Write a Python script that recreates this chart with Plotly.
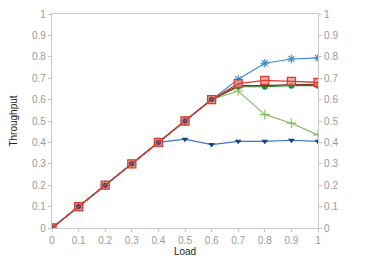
import plotly.graph_objects as go

load = [0, 0.1, 0.2, 0.3, 0.4, 0.5, 0.6, 0.7, 0.8, 0.9, 1.0]
base = [0, 0.1, 0.2, 0.3, 0.4, 0.5, 0.6]
tri = base[:5] + [0.415, 0.39, 0.405, 0.405, 0.41, 0.405]
plus = base + [0.64, 0.53, 0.49, 0.435]
circ = base + [0.66, 0.66, 0.665, 0.665]
dark = base + [0.665, 0.665, 0.67, 0.67]
sq = base + [0.675, 0.69, 0.685, 0.68]
star = base + [0.695, 0.77, 0.79, 0.795]
yticks = [0, 0.1, 0.2, 0.3, 0.4, 0.5, 0.6, 0.7, 0.8, 0.9, 1]
ytext = ["0", "0.1", "0.2", "0.3", "0.4", "0.5", "0.6", "0.7", "0.8", "0.9", "1"]

fig = go.Figure()
fig.add_trace(go.Scatter(x=load, y=tri, mode="lines+markers",
    line=dict(color="#3f74c0", width=1.2),
    marker=dict(symbol="triangle-down", size=6, color="#13428c")))
fig.add_trace(go.Scatter(x=load, y=plus, mode="lines+markers",
    line=dict(color="#7dbb5c", width=1.1),
    marker=dict(symbol="cross-thin-open", size=7, color="#7dbb5c", line=dict(width=1.1, color="#7dbb5c"))))
fig.add_trace(go.Scatter(x=load, y=circ, mode="lines+markers",
    line=dict(color="#2c8a3a", width=1.2),
    marker=dict(symbol="circle", size=6, color="#1d8a35")))
fig.add_trace(go.Scatter(x=load, y=dark, mode="lines",
    line=dict(color="#6b3a22", width=1.2)))
fig.add_trace(go.Scatter(x=load, y=star, mode="lines+markers",
    line=dict(color="#3a88d0", width=1.1),
    marker=dict(symbol="asterisk-open", size=7, line=dict(width=1.1, color="#2f7ec8"))))
fig.add_trace(go.Scatter(x=load, y=sq, mode="markers",
    marker=dict(symbol="square", size=8, color="rgba(240,140,130,0.7)", line=dict(width=1.3, color="#e2382c"))))
fig.add_trace(go.Scatter(x=load[:7], y=base, mode="markers",
    marker=dict(symbol="circle", size=5, color="#1f4f86")))
fig.add_trace(go.Scatter(x=load, y=sq, mode="lines",
    line=dict(color="#e2382c", width=1.3)))

axfont = dict(family="Liberation Sans, Arial", size=10, color="#999999")
fig.update_layout(
    width=374, height=262, showlegend=False,
    margin=dict(l=44, r=64, t=6, b=42),
    plot_bgcolor="white", paper_bgcolor="white",
    font=dict(family="Liberation Sans, Arial", size=10, color="#222"),
    xaxis=dict(range=[0, 1], tickvals=[0, 0.1, 0.2, 0.3, 0.4, 0.5, 0.6, 0.7, 0.8, 0.9, 1],
               ticktext=["0", "0.1", "0.2", "0.3", "0.4", "0.5", "0.6", "0.7", "0.8", "0.9", "1"],
               showgrid=False, zeroline=False, showline=True, linecolor="#c8c8c8", linewidth=1.2,
               mirror=True, ticks="outside", ticklen=3, tickcolor="#c8c8c8", tickfont=axfont,
               automargin=False, ticklabeloverflow="allow",
               title=dict(text="Load", font=dict(size=10, color="#222"), standoff=0)),
    yaxis=dict(range=[0, 1], tickvals=yticks, ticktext=ytext, showgrid=False, zeroline=False,
               showline=True, linecolor="#c8c8c8", linewidth=1.2, ticks="outside", ticklen=3,
               tickcolor="#c8c8c8", tickfont=axfont, automargin=False, ticklabeloverflow="allow",
               title=dict(text="Throughput", font=dict(size=10, color="#222"), standoff=17)),
    yaxis2=dict(range=[0, 1], tickvals=yticks, ticktext=ytext, overlaying="y", side="right",
                showgrid=False, zeroline=False, showline=True, linecolor="#c8c8c8", linewidth=1.2,
                ticks="outside", ticklen=3, tickcolor="#c8c8c8", tickfont=axfont, automargin=False,
                ticklabeloverflow="allow"),
)
fig.add_trace(go.Scatter(x=[None], y=[None], yaxis="y2", showlegend=False))
fig.write_html("out.html")
